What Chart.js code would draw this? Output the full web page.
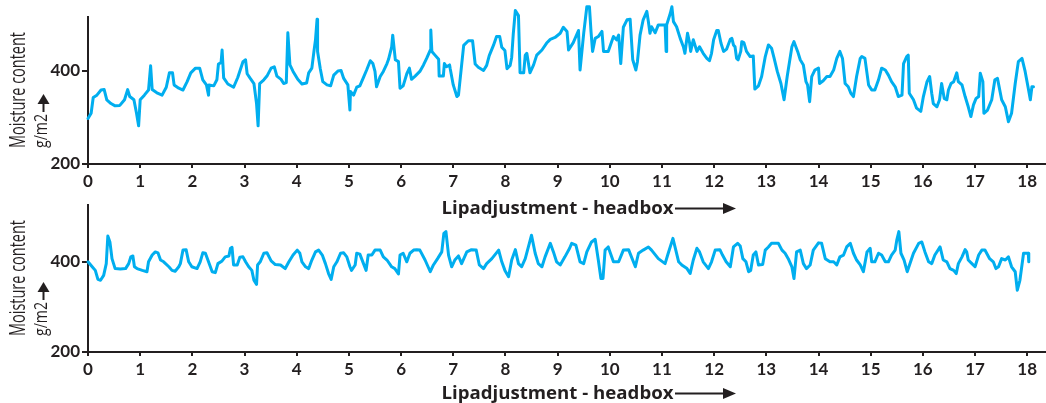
<!DOCTYPE html>
<html><head><meta charset="utf-8">
<script src="https://cdn.jsdelivr.net/npm/chart.js@4/dist/chart.umd.min.js"></script>
<style>
html,body{margin:0;padding:0;background:#fff;width:1046px;height:403px;overflow:hidden;position:relative}
canvas{position:absolute;left:0}
#c1{top:0}
#c2{top:185px}
</style></head><body>
<canvas id="c1" width="1046" height="218"></canvas>
<canvas id="c2" width="1046" height="218"></canvas>
<script>
const xTicks = [0,1,2,3,4,5,6,7,8,9,10,11,12,13,14,15,16,17,18];
const yTicks = [200, 400];
const yTitle = ['Moisture content', 'g/m2'];
const xTitle = 'Lipadjustment - headbox';

const topX = [0.00,0.06,0.10,0.17,0.25,0.31,0.36,0.44,0.52,0.61,0.70,0.76,0.80,0.88,0.93,0.97,1.00,1.08,1.16,1.20,1.23,1.32,1.42,1.50,1.56,1.62,1.65,1.74,1.82,1.90,1.97,2.06,2.14,2.20,2.27,2.31,2.32,2.41,2.47,2.50,2.55,2.57,2.60,2.68,2.79,2.87,2.97,3.02,3.05,3.11,3.18,3.23,3.26,3.29,3.37,3.43,3.51,3.57,3.62,3.70,3.75,3.80,3.83,3.87,3.93,4.02,4.10,4.19,4.23,4.29,4.33,4.36,4.39,4.40,4.45,4.50,4.58,4.65,4.71,4.79,4.85,4.90,4.98,5.02,
5.03,5.09,5.15,5.21,5.28,5.34,5.41,5.46,5.50,5.53,5.60,5.66,5.73,5.76,5.82,5.84,5.89,5.95,5.98,6.04,6.11,6.16,6.20,6.27,6.36,6.43,6.49,6.56,6.57,6.59,6.65,6.72,6.73,6.81,6.83,6.87,6.93,6.94,7.00,7.07,7.10,7.20,7.29,7.37,7.42,7.48,7.58,7.64,7.69,7.77,7.83,7.89,7.93,7.99,8.03,8.09,8.12,8.15,8.19,8.25,8.28,8.35,8.38,8.41,8.47,8.54,8.60,8.70,8.79,8.86,8.95,9.05,9.11,9.18,9.21,9.30,9.40,9.43,9.50,9.56,9.61,9.64,9.67,9.72,9.78,9.85,9.88,9.97,10.07,10.13,10.17,10.21,10.26,10.33,10.39,10.44,10.50,10.53,10.58,10.64,10.71,10.74,10.77,10.80,10.87,10.93,11.06,11.08,11.09,11.16,11.19,11.22,11.28,11.35,11.41,11.44,11.49,11.53,11.55,11.60,11.67,11.72,
11.79,11.86,11.91,11.95,11.99,12.05,12.08,12.13,12.18,12.24,12.31,12.34,12.37,12.40,12.43,12.46,12.51,12.53,12.57,12.62,12.69,12.75,12.78,12.85,12.91,12.98,13.04,13.10,13.15,13.21,13.28,13.34,13.40,13.49,13.53,13.60,13.65,13.71,13.76,13.79,13.83,13.87,13.93,14.00,14.02,14.09,14.16,14.22,14.29,14.35,14.41,14.46,14.51,14.57,14.62,14.67,14.73,14.80,14.83,14.89,14.96,15.02,15.08,15.15,15.21,15.28,15.34,15.40,15.47,15.53,15.60,15.63,15.69,15.72,15.74,15.82,15.88,15.96,16.01,16.08,16.13,16.17,16.20,16.27,16.32,16.36,16.41,16.46,16.49,16.54,16.59,16.65,16.68,16.75,16.81,16.87,16.92,16.97,17.02,17.07,17.10,17.15,17.17,17.24,17.32,17.38,17.43,17.51,17.58,17.64,17.70,17.77,17.83,17.90,17.96,18.02,18.06,18.09,18.12];
const topY = [298,309,343,348,359,360,338,330,325,326,338,360,345,338,309,282,338,348,359,411,360,353,348,365,396,396,370,363,359,377,396,406,406,381,370,348,370,368,381,415,418,445,385,372,365,386,420,424,394,384,373,330,282,373,381,389,406,409,389,382,373,375,482,413,399,382,372,374,396,406,442,467,511,442,406,377,370,368,391,400,401,384,370,316,
356,348,365,368,386,402,422,416,399,366,388,399,416,425,452,477,424,420,363,368,394,406,382,389,399,413,427,445,488,442,434,425,389,389,416,409,413,406,370,345,348,455,465,465,415,408,401,412,433,455,474,474,451,444,405,412,429,479,530,519,396,396,434,438,396,413,434,445,460,468,472,481,494,485,445,461,487,402,481,538,538,485,442,470,474,485,442,442,474,467,477,416,494,510,511,424,402,420,477,510,528,506,481,495,482,499,499,442,499,524,538,506,495,470,452,438,481,460,442,467,442,452,
438,427,422,438,467,487,487,460,442,447,468,470,456,452,427,424,442,463,461,442,431,432,361,368,388,431,456,449,427,399,373,338,388,452,463,442,424,413,377,370,334,388,402,406,373,379,388,388,402,427,442,427,373,366,352,345,388,427,431,427,370,359,359,381,406,402,391,377,366,345,348,416,431,434,352,338,320,313,345,377,388,352,330,323,338,373,341,338,359,373,377,396,377,370,345,323,302,327,341,345,395,377,309,316,338,381,384,338,323,291,309,373,420,427,399,363,338,366,366];

const bottomX = [0.00,0.08,0.14,0.19,0.24,0.30,0.35,0.38,0.42,0.46,0.52,0.62,0.72,0.78,0.82,0.86,0.89,0.94,1.04,1.13,1.16,1.23,1.29,1.34,1.39,1.45,1.55,1.61,1.67,1.74,1.77,1.82,1.88,1.93,1.99,2.09,2.15,2.20,2.25,2.31,2.38,2.44,2.49,2.57,2.63,2.70,2.73,2.76,2.79,2.86,2.91,2.97,3.02,3.08,3.14,3.18,3.23,3.25,3.30,3.37,3.43,3.51,3.59,3.69,3.78,3.85,3.93,4.01,4.06,4.10,4.17,4.23,4.29,4.36,4.42,4.49,4.55,4.61,4.66,4.71,4.77,4.84,4.90,4.96,5.02,
5.05,5.12,5.15,5.21,5.28,5.33,5.37,5.44,5.50,5.60,5.66,5.73,5.82,5.88,5.95,5.98,6.04,6.11,6.17,6.24,6.30,6.36,6.46,6.56,6.62,6.70,6.78,6.82,6.86,6.91,6.97,7.03,7.10,7.16,7.26,7.35,7.44,7.50,7.58,7.64,7.74,7.87,7.93,7.99,8.06,8.12,8.19,8.25,8.31,8.38,8.50,8.57,8.63,8.70,8.76,8.86,8.92,8.98,9.05,9.14,9.23,9.27,9.35,9.43,9.50,9.56,9.65,9.72,9.78,9.83,9.87,9.91,9.97,10.07,10.17,10.26,10.36,10.49,10.55,10.64,10.74,10.80,10.93,11.06,11.12,11.21,11.25,11.32,11.38,11.48,11.54,11.60,11.67,11.72,
11.79,11.89,11.95,12.02,12.11,12.16,12.23,12.31,12.37,12.45,12.50,12.55,12.61,12.66,12.70,12.75,12.80,12.85,12.93,12.98,13.04,13.10,13.23,13.30,13.36,13.42,13.49,13.53,13.58,13.65,13.71,13.77,13.84,13.90,14.00,14.06,14.13,14.22,14.29,14.35,14.41,14.48,14.54,14.61,14.67,14.73,14.80,14.86,14.93,14.99,15.02,15.08,15.15,15.21,15.28,15.34,15.40,15.47,15.50,15.54,15.58,15.64,15.70,15.82,15.92,15.98,16.04,16.11,16.17,16.23,16.33,16.39,16.46,16.52,16.59,16.64,16.68,16.75,16.81,16.84,16.87,16.94,17.00,17.07,17.13,17.19,17.28,17.35,17.40,17.45,17.51,17.58,17.64,17.70,17.77,17.81,17.86,17.93,18.02,18.03];
const bottomY = [400,389,381,361,359,370,396,457,444,407,385,384,385,396,411,413,389,385,381,378,400,415,422,420,404,400,389,381,379,389,396,426,427,400,389,385,400,420,419,400,378,376,396,402,411,413,430,432,393,393,410,411,400,389,381,359,350,393,400,419,420,402,394,393,385,400,415,426,419,400,389,385,404,422,426,415,396,374,361,389,400,419,420,411,389,
381,393,419,417,396,381,415,415,426,426,411,404,389,385,373,415,419,400,419,426,427,426,404,378,393,407,422,463,467,415,389,404,413,396,422,427,426,393,385,396,407,426,400,381,367,404,427,396,389,407,459,419,396,389,411,441,422,400,393,411,430,441,437,400,396,422,444,450,404,363,363,426,433,400,400,426,427,389,419,426,433,426,407,396,419,452,433,400,393,385,374,404,430,422,
400,385,400,426,427,415,400,389,433,441,435,407,400,378,381,415,422,393,394,426,433,441,441,426,419,407,389,363,422,426,396,385,393,426,442,441,407,400,400,393,411,415,433,441,419,404,393,378,422,430,400,400,419,415,400,400,415,426,448,467,419,404,378,419,441,444,422,400,396,415,433,404,400,385,381,374,396,411,427,422,404,396,389,415,426,426,407,400,385,389,407,404,411,389,378,337,359,419,419,400];

const INK = '#231f20';
const LINE = '#00aeef';

const titlePlugin = {
  id: 'axisTitles',
  afterDraw(chart) {
    const ctx = chart.ctx, a = chart.chartArea;
    const end = a.bottom - 16;
    ctx.save();
    ctx.fillStyle = INK; ctx.strokeStyle = INK;
    ctx.textAlign = 'left'; ctx.textBaseline = 'alphabetic';
    // y title line 1
    ctx.save();
    ctx.translate(25, end);
    ctx.rotate(-Math.PI / 2);
    ctx.font = '21px "Liberation Sans Narrow", "Open Sans", sans-serif';
    let w = ctx.measureText(yTitle[0]).width;
    ctx.scale(116 / w, 1);
    ctx.fillText(yTitle[0], 0, 0);
    ctx.restore();
    // y title line 2 with arrow
    ctx.save();
    ctx.translate(47, end);
    ctx.rotate(-Math.PI / 2);
    ctx.font = '18px "Liberation Sans Narrow", "Open Sans", sans-serif';
    w = ctx.measureText(yTitle[1]).width;
    ctx.save(); ctx.scale(34 / w, 1); ctx.fillText(yTitle[1], 0, 0); ctx.restore();
    ctx.lineWidth = 2;
    ctx.beginPath(); ctx.moveTo(36, -3.5); ctx.lineTo(46, -3.5); ctx.stroke();
    ctx.beginPath(); ctx.moveTo(44, -9.5); ctx.lineTo(54, -3.5); ctx.lineTo(44, 2.5); ctx.closePath(); ctx.fill();
    ctx.restore();
    // x title
    const base = chart.height - 4;
    ctx.save();
    ctx.font = 'bold 18px "Open Sans", sans-serif';
    w = ctx.measureText(xTitle).width;
    ctx.translate(441.5, base);
    ctx.scale(232 / w, 1);
    ctx.fillText(xTitle, 0, 0);
    ctx.restore();
    const ay = base - 5.5;
    ctx.lineWidth = 2;
    ctx.beginPath(); ctx.moveTo(675, ay); ctx.lineTo(727, ay); ctx.stroke();
    ctx.beginPath(); ctx.moveTo(723, ay - 5.5); ctx.lineTo(736, ay); ctx.lineTo(723, ay + 5.5); ctx.closePath(); ctx.fill();
    ctx.restore();
  }
};

function makeChart(id, xs, ys, yMax, padTop, xHeight) {
  return new Chart(document.getElementById(id), {
    type: 'line',
    data: {
      datasets: [{
        data: xs.map((x, i) => ({ x: x, y: ys[i] })),
        borderColor: LINE, borderWidth: 3, pointRadius: 0, tension: 0,
        clip: false, fill: false, borderJoinStyle: 'round', borderCapStyle: 'round'
      }]
    },
    options: {
      responsive: false, animation: false, devicePixelRatio: 1,
      layout: { padding: { top: padTop, right: 0, bottom: 0, left: 0 } },
      plugins: { legend: { display: false }, tooltip: { enabled: false } },
      scales: {
        x: {
          type: 'linear', min: 0, max: 18.36,
          afterBuildTicks: s => { s.ticks = xTicks.map(v => ({ value: v })); },
          afterFit: s => { s.height = xHeight; },
          grid: { display: true, drawOnChartArea: false, drawTicks: true, tickLength: 4, color: INK, lineWidth: 2 },
          border: { display: true, color: INK, width: 2 },
          ticks: { color: INK, font: { family: 'Lato', weight: 'bold', size: 17 }, padding: 3, maxRotation: 0, autoSkip: false }
        },
        y: {
          type: 'linear', min: 200, max: yMax,
          afterBuildTicks: s => { s.ticks = yTicks.map(v => ({ value: v })); },
          afterFit: s => { s.width = 88; },
          grid: { display: true, drawOnChartArea: false, drawTicks: true, tickLength: 6, color: INK, lineWidth: 2 },
          border: { display: true, color: INK, width: 2 },
          ticks: { color: INK, font: { family: 'Lato', weight: 'bold', size: 17 }, padding: 2 }
        }
      }
    },
    plugins: [titlePlugin]
  });
}

makeChart('c1', topX, topY, 516, 17, 54);
makeChart('c2', bottomX, bottomY, 526, 20, 51);
</script>
</body></html>
